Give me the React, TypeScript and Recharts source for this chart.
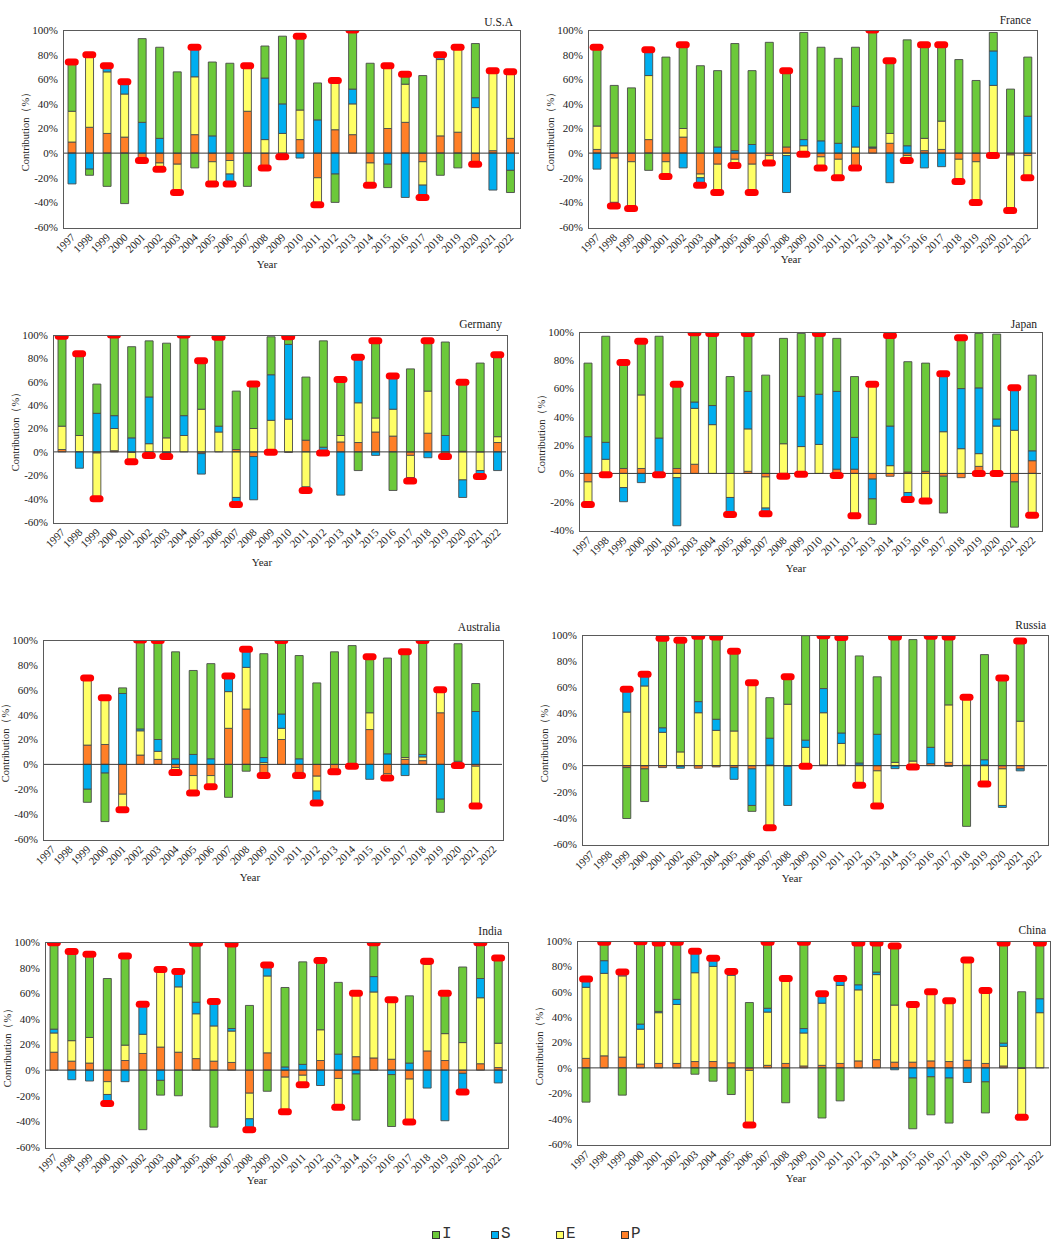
import React from 'react';
import { ComposedChart, Bar, Line, XAxis, YAxis, ReferenceLine } from 'recharts';

const years = [
  '1997', '1998', '1999', '2000', '2001', '2002', '2003', '2004', '2005', '2006', '2007', '2008', '2009',
  '2010', '2011', '2012', '2013', '2014', '2015', '2016', '2017', '2018', '2019', '2020', '2021', '2022',
];

const ticksFull = [-60, -40, -20, 0, 20, 40, 60, 80, 100];
const ticksJapan = [-40, -20, 0, 20, 40, 60, 80, 100];

// contribution of each factor, % (sign = side of the zero line)
const usaP = [9, 21, 16, 13, -6, -8, -9, 15, -7, -6, 34, -12, -3, 11, -20, 19, 15, -8, 20, 25, -7, 14, 17, -9, 2, 12];
const usaE = [25, 59, 50, 35, 0, -5, -23, 47, -18, -11, 37, 11, 16, 24, -22, 40, 25, -18, 51, 31, -19, 62, 69, 37, 65, 54];
const usaS = [-25, -13, 5, 10, 25, 12, 0, 24, 14, -8, 0, 50, 24, -4, 27, -17, 12, 0, -9, -36, -10, 4, 0, 8, -30, -14];
const usaI = [40, -5, -27, -41, 68, 74, 66, -12, 60, 73, -27, 26, 55, 60, 30, -23, 48, 73, -19, 8, 63, -18, -12, 44, 0, -18];
const usaMark = [1, 1, 1, 1, -1, -1, -1, 1, -1, -1, 1, -1, -1, 1, -1, 1, 1, -1, 1, 1, -1, 1, 1, -1, 1, 1];

const fraP = [3, -4, -7, 11, -7, 13, -17, -9, -5, -9, -2, 5, -1, -3, -5, -12, 4, 8, -2, 2, 3, -5, -7, -2, -1.5, -2];
const fraE = [19, -36, -36, 52, -10, 7, -3, -23, -5, -23, -6, -2, 6, -9, -15, 5, 0.5, 8, -4, 10, 23, -18, -33, 55, -45, -18];
const fraS = [-13, -3, -2, 21, -2, -12, -6, 5, 2, 7, 0, -30, 5, 10, 8, 33, 0.5, -24, 6, -12, -11, 0, 0, 28, 0, 30];
const fraI = [64, 55, 53, -14, 78, 68, 71, 62, 87, 60, 90, 62, 87, 76, 69, 48, 95, 59, 86, 76, 62, 76, 59, 15, 52, 48];
const fraMark = [1, -1, -1, 1, -1, 1, -1, -1, -1, -1, -1, 1, -1, -1, -1, -1, 1, 1, -1, 1, 1, -1, -1, -1, -1, -1];

const gerP = [2, 0, -1, 1, -0.5, -3, -0.5, 0, -1.5, 0, 2, -4, -0.3, -0.3, 10, -1, 8.5, 8, 17, 13.5, -3, 16, -2, 0.5, 0, 8];
const gerE = [20, 14, -39, 19, -8, 7, 12, 14, 36.5, 17, -39, 20, 27, 28, -30, 0, 5.5, 34, 12, 23, -19, 36, -2, -24, -16, 5];
const gerS = [0, -14, 33, 11, 12, 40, -3.5, 17, -17.5, 5, -6, -37, 39, 64, -3, 4, -37, 39, -3, 28.5, -3, -5, 14, -15, -5, -16];
const gerI = [77, 70, 25, 69, 78, 48, 81, 69, 41.5, 76, 50, 38, 32.5, 6.5, 54, 91, 48, -16, 66, -33, 71, 43, 80, 59, 76, 70];
const gerMark = [1, 1, -1, 1, -1, -1, -1, 1, 1, 1, -1, 1, -1, 1, -1, -1, 1, 1, 1, 1, -1, 1, -1, 1, -1, 1];

const jpnP = [-6, -1, 3.5, 3.5, -1, 3.5, 6.5, 0, 0, 1.5, -2.5, -0.5, -0.5, 0, 3, 3, -4, -2, 1, 1.5, -2, -3, 5, 2, -6, 9];
const jpnE = [-16, 10, -10, 52, 0, -3, 39.5, 34.5, -17, 30, -22, 21, 19, 20.5, -1.5, -30, 63, 5.5, -13.5, -18.5, 29.5, 17.5, 9, 31.5, 30.5, -29.5];
const jpnS = [26, 12, -10, -6.5, 25, -34, 4.5, 13.5, -12, 26.5, -4, -1.5, 35.5, 35.5, 55, 22.5, -14, 28, -5, -1, 41, 42.5, 46.5, 5, 30, 7];
const jpnI = [52, 75, 75, 38, 72, 59.5, 49, 51, 68.5, 41, 69.5, 74.5, 44.5, 43, 37.5, 43, -18, 64, 78, 76.5, -26, 36, 38.5, 60, -32, 53.5];
const jpnMark = [-1, -1, 1, 1, -1, 1, 1, 1, -1, 1, -1, -1, -1, 1, -1, -1, 1, 1, -1, -1, 1, 1, -1, -1, 1, -1];

const ausP = [null, null, 15.5, 16, -24, 7.5, 4, -2.5, -9, -9, 29, 44.5, -9, 20, -6.5, -9.5, -4, -1.5, 28, -7.5, 4, 3, 41.5, -1, -1.5, null];
const ausE = [null, null, 54, 37.5, -12.5, 19.5, 6.5, -4, -14, -9, 29.5, 33.5, 1.5, 9, -2.5, -12, -2, 0, 13.5, -3.5, 1.5, 3, 18.5, 2.5, -32, null];
const ausS = [null, null, -20, -7, 57, 1.5, 9.5, 4.5, 8, 4.5, 12.5, 14.5, 4, 11.5, 4.5, -9.5, 0, 0, -12, 8.5, -9, 2, -28, 0, 42.5, null];
const ausI = [null, null, -10.5, -39, 4.5, 71.5, 79.5, 86, 67.5, 76.5, -26.5, -5.5, 83.5, 59, 83, 65.5, 90.5, 95.5, 45, 77, 85, 91.5, -10.5, 94.5, 22.5, null];
const ausMark = [0, 0, 1, 1, -1, 1, 1, -1, -1, -1, 1, 1, -1, 1, -1, -1, -1, -1, 1, -1, 1, 1, 1, -1, -1, 0];

const rusP = [null, null, -1.5, -2.5, -1.5, -0.5, -2, -1, -1.5, -2.5, 0.5, -0.5, -0.5, 0.5, 0.5, 0.5, -4, -0.3, -1, 1.5, 2.5, 0.3, 0.5, -2.5, -2.5, null];
const rusE = [null, null, 41, 61, 25.5, 10.5, 40.5, 27, 26.5, 63.5, -47.5, 47, 14, 40, 16.5, -15, -27, 2.5, 3.5, 0, 44, 52, -14, -28, 34, null];
const rusS = [null, null, 17.5, 9, 3.5, -1.5, 8.5, 8.5, -9, -28, 20.5, -30, 5.5, 18.5, 8, 1.5, 24, -2, 0, 12.5, -0.5, 0, 4, -1.5, -1.5, null];
const rusI = [null, null, -39, -25, 68.5, 85.5, 50, 63, 61, -4.5, 31, 21, 80, 40.5, 73, 82, 44, 96, 93, 85, 52, -46.5, 80.5, 67, 61.5, null];
const rusMark = [0, 0, 1, 1, 1, 1, 1, 1, 1, 1, -1, 1, -1, 1, 1, -1, -1, 1, -1, 1, 1, 1, -1, 1, 1, 0];

const indP = [14, 7, 5.5, -9, 7.5, 13, 18, 14, 9, 7, 6, -18, 13.5, -5.5, -4, 7.5, -6.5, 10.5, 9.5, 8.5, -7, 15, 7.5, -2.5, 5, 2];
const indE = [15, 16, 20, -10, 12, 15, 60.5, 51, 35, 27.5, 24.5, -20, 60, -27, -7.5, 24, -22.5, 49.5, 51.5, 46.5, -33.5, 67.5, 21, 21.5, 51.5, 19];
const indS = [3, -7.5, -8.5, -7, -9, 23.5, -8, 12, 9, 19, 2, -8.5, 8.5, 2.5, 4.5, -12, 12.5, -3, 12, -3.5, 5.5, -14, -39.5, -14.5, 15, -10];
const indI = [67.5, 69.5, 65, 71.5, 69.5, -46.5, -11.5, -20, 46, -44.5, 66, 50.5, -16.5, 62, 80, 54, 56, -36, 26.5, -40.5, 52.5, 2.5, 31.5, 59, 28, 66.5];
const indMark = [1, 1, 1, -1, 1, 1, 1, 1, 1, 1, 1, -1, 1, -1, -1, 1, -1, 1, 1, 1, -1, 1, 1, -1, 1, 1];

const chnP = [7.5, 9.5, 8.5, 3, 3.5, 3.5, 5, 5, 4, -2, 2, 3.5, 1.5, 2, 3.5, 5.5, 6.5, 4.5, 4.5, 5.5, 5, 6, 3.5, 1.5, -0.5, 0];
const chnE = [56, 65, 64, 27.5, 40, 46.5, 70, 75, 69, -43, 42, 67, 26, 49, 61.5, 56, 67, 45, 45.5, 54.5, 48, 79, 57.5, 15.5, -38.5, 43.5];
const chnS = [6.5, 10, 3, 4, 1, 4, 17, 6.5, 3, 0, 3, 0, 3.5, 7.5, 5.5, 4, 2, -1.5, -8, -7, -8, -11.5, -11, 2.5, 0, 11];
const chnI = [-27, 14.5, -21.5, 65, 54, 45, -5, -10.5, -21, 51.5, 52, -27.5, 68, -39.5, -26, 33, 23, 46.5, -40, -30, -35.5, 0, -24.5, 79, 60, 44];
const chnMark = [1, 1, 1, 1, 1, 1, 1, 1, 1, -1, 1, 1, 1, 1, 1, 1, 1, 1, 1, 1, 1, 1, 1, 1, -1, 1];

const COLORS = { I: '#6CC93A', S: '#00AEEF', E: '#FFFF66', P: '#FF7F27' };
const SERIF = "'Liberation Serif', 'Times New Roman', serif";
const TEXT = '#222';

interface PanelSpec {
  name: string;
  P: (number | null)[];
  E: (number | null)[];
  S: (number | null)[];
  I: (number | null)[];
  mark: number[];
  box: [number, number, number, number]; // plot left, top, right, bottom
  ticks: number[];
  titleRight: number;
  titleY: number;
  yearX: number;
  yearY: number;
}

const panels: PanelSpec[] = [
  { name: 'U.S.A', P: usaP, E: usaE, S: usaS, I: usaI, mark: usaMark, box: [63, 30, 519, 227], ticks: ticksFull, titleRight: 513, titleY: 22, yearX: 267, yearY: 264 },
  { name: 'France', P: fraP, E: fraE, S: fraS, I: fraI, mark: fraMark, box: [588, 30, 1036, 227], ticks: ticksFull, titleRight: 1031, titleY: 20, yearX: 791, yearY: 259 },
  { name: 'Germany', P: gerP, E: gerE, S: gerS, I: gerI, mark: gerMark, box: [53, 335, 506, 522], ticks: ticksFull, titleRight: 502, titleY: 324, yearX: 262, yearY: 562 },
  { name: 'Japan', P: jpnP, E: jpnE, S: jpnS, I: jpnI, mark: jpnMark, box: [579, 332, 1041, 530], ticks: ticksJapan, titleRight: 1037, titleY: 324, yearX: 796, yearY: 568 },
  { name: 'Australia', P: ausP, E: ausE, S: ausS, I: ausI, mark: ausMark, box: [43, 640, 502, 839], ticks: ticksFull, titleRight: 500, titleY: 627, yearX: 250, yearY: 877 },
  { name: 'Russia', P: rusP, E: rusE, S: rusS, I: rusI, mark: rusMark, box: [582, 635, 1047, 844], ticks: ticksFull, titleRight: 1046, titleY: 625, yearX: 792, yearY: 878 },
  { name: 'India', P: indP, E: indE, S: indS, I: indI, mark: indMark, box: [45, 942, 507, 1147], ticks: ticksFull, titleRight: 502, titleY: 931, yearX: 257, yearY: 1180 },
  { name: 'China', P: chnP, E: chnE, S: chnS, I: chnI, mark: chnMark, box: [577, 941, 1049, 1144], ticks: ticksFull, titleRight: 1046, titleY: 930, yearX: 796, yearY: 1178 },
];

function buildRows(p: PanelSpec) {
  return years.map((year, i) => {
    const parts = [p.P[i], p.E[i], p.S[i], p.I[i]].filter((v): v is number => v != null);
    const side = p.mark[i];
    let mark: number | null = null;
    if (side > 0) mark = parts.filter((v) => v > 0).reduce((a, b) => a + b, 0);
    if (side < 0) mark = parts.filter((v) => v < 0).reduce((a, b) => a + b, 0);
    return { year, P: p.P[i], E: p.E[i], S: p.S[i], I: p.I[i], mark };
  });
}

const YearTick = (props: any) => {
  const { x, y, payload } = props;
  return (
    <g transform={`translate(${x + 4},${y + 9})`}>
      <text textAnchor="end" transform="rotate(-45)" fontSize={11} fill={TEXT} fontFamily={SERIF}>
        {payload.value}
      </text>
    </g>
  );
};

const MarkDot = (props: any) => {
  const { cx, cy, value, index } = props;
  if (value == null || cy == null || Number.isNaN(cy)) return <g key={`m-${index}`} />;
  return <rect key={`m-${index}`} x={cx - 7} y={cy - 3.5} width={14} height={7} rx={3.5} fill="#FF0000" />;
};

function Panel({ spec }: { spec: PanelSpec }) {
  const [l, t, r, b] = spec.box;
  const padL = 60;
  const padT = 10;
  const padR = 10;
  const padB = 60;
  const w = r - l + padL + padR;
  const h = b - t + padT + padB;
  const rows = buildRows(spec);
  const ticks = spec.ticks;
  const barStroke = { stroke: '#4a4a4a', strokeWidth: 0.9 };

  return (
    <>
      <div style={{ position: 'absolute', left: l - padL, top: t - padT, width: w, height: h }}>
        <ComposedChart width={w} height={h} data={rows} stackOffset="sign" margin={{ top: padT, right: padR, bottom: 0, left: 0 }}>
          <XAxis dataKey="year" interval={0} axisLine={false} tickLine={false} tickSize={0} height={padB} tick={<YearTick />} />
          <YAxis
            domain={[ticks[0], 100]}
            ticks={ticks}
            allowDataOverflow
            axisLine={false}
            tickLine={false}
            tickSize={3}
            tickMargin={2}
            width={padL}
            tickFormatter={(v: number) => `${v}%`}
            tick={{ fontSize: 11, fill: TEXT, fontFamily: SERIF }}
          />
          <Bar dataKey="P" stackId="s" fill={COLORS.P} barSize={8} {...barStroke} isAnimationActive={false} />
          <Bar dataKey="E" stackId="s" fill={COLORS.E} barSize={8} {...barStroke} isAnimationActive={false} />
          <Bar dataKey="S" stackId="s" fill={COLORS.S} barSize={8} {...barStroke} isAnimationActive={false} />
          <Bar dataKey="I" stackId="s" fill={COLORS.I} barSize={8} {...barStroke} isAnimationActive={false} />
          <ReferenceLine y={0} stroke="#3a3a3a" strokeWidth={1} />
          <Line dataKey="mark" stroke="none" dot={MarkDot} activeDot={false} legendType="none" isAnimationActive={false} />
        </ComposedChart>
      </div>
      <div
        style={{
          position: 'absolute',
          left: l - 0.5,
          top: t - 0.5,
          width: r - l,
          height: b - t,
          border: '1.2px solid #5a5a5a',
          pointerEvents: 'none',
        }}
      />
      <div
        style={{
          position: 'absolute',
          left: 0,
          width: spec.titleRight,
          top: spec.titleY - 7,
          lineHeight: '14px',
          textAlign: 'right',
          fontFamily: SERIF,
          fontSize: 11.5,
          color: TEXT,
        }}
      >
        {spec.name}
      </div>
      <div
        style={{
          position: 'absolute',
          left: l - 37,
          top: (t + b) / 2,
          transform: 'translate(-50%, -50%) rotate(-90deg)',
          whiteSpace: 'nowrap',
          fontFamily: SERIF,
          fontSize: 10.5,
          lineHeight: '12px',
          color: TEXT,
        }}
      >
        Contribution（%）
      </div>
      <div
        style={{
          position: 'absolute',
          left: spec.yearX,
          top: spec.yearY,
          transform: 'translate(-50%, -50%)',
          fontFamily: SERIF,
          fontSize: 11,
          lineHeight: '12px',
          color: TEXT,
        }}
      >
        Year
      </div>
    </>
  );
}

const legendItems = [
  { key: 'I', x: 432 },
  { key: 'S', x: 491 },
  { key: 'E', x: 556 },
  { key: 'P', x: 621 },
];

export default function App() {
  return (
    <div style={{ position: 'absolute', left: 0, top: 0, width: 1059, height: 1253, background: '#fff', overflow: 'hidden' }}>
      {panels.map((p) => (
        <Panel key={p.name} spec={p} />
      ))}
      {legendItems.map((it) => (
        <React.Fragment key={it.key}>
          <div
            style={{
              position: 'absolute',
              left: it.x,
              top: 1231,
              width: 6,
              height: 6,
              background: COLORS[it.key as keyof typeof COLORS],
              border: '1px solid #333',
            }}
          />
          <div
            style={{
              position: 'absolute',
              left: it.x + 10,
              top: 1225,
              lineHeight: '18px',
              fontFamily: "'Liberation Mono', 'Courier New', monospace",
              fontSize: 16,
              color: '#333',
            }}
          >
            {it.key}
          </div>
        </React.Fragment>
      ))}
    </div>
  );
}
